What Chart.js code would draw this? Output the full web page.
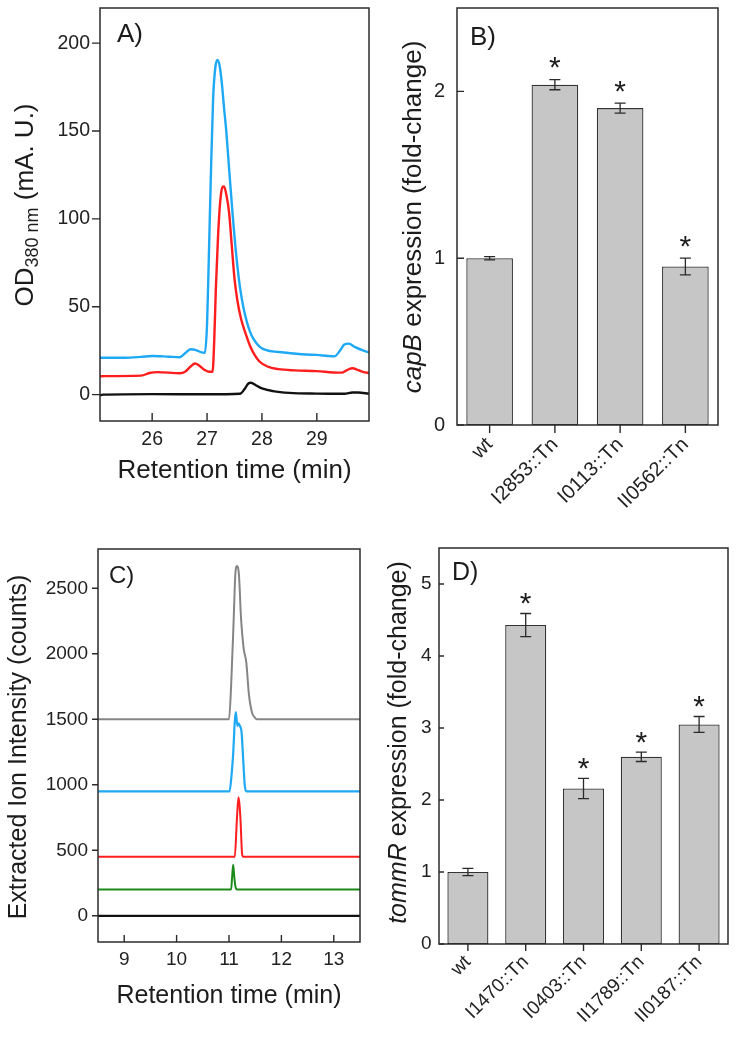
<!DOCTYPE html>
<html><head><meta charset="utf-8">
<script src="https://cdn.jsdelivr.net/npm/chart.js@4.4.1/dist/chart.umd.min.js"></script>
<style>
html,body{margin:0;padding:0;background:#fff}
body{width:736px;height:1050px;position:relative;overflow:hidden}
canvas{position:absolute}
</style></head><body>
<canvas id="cA" width="372" height="520" style="left:0;top:0"></canvas>
<canvas id="cB" width="364" height="520" style="left:372px;top:0"></canvas>
<canvas id="cC" width="372" height="530" style="left:0;top:520px"></canvas>
<canvas id="cD" width="364" height="530" style="left:372px;top:520px"></canvas>
<script>
// ---------- Panel A data (HPLC, OD380) ----------
const aXTicks = [26, 27, 28, 29];
const aYTicks = [0, 50, 100, 150, 200];
const aBlueX = [25.05,25.5,25.8,26.0,26.3,26.5,26.6,26.7,26.8,26.9,26.96,27.0,27.03,27.07,27.11,27.15,27.19,27.23,27.27,27.31,27.35,27.41,27.47,27.53,27.6,27.66,27.72,27.78,27.84,27.95,28.08,28.4,28.8,29.0,29.2,29.32,29.42,29.5,29.58,29.7,29.85,29.95];
const aBlueY = [21,21,21.5,22,21.6,21.3,23.5,25.8,25.3,24,23.8,40,75,125,168,186,190.5,187,177,163,150,125,101,80,61,50,42,36,32,27.5,25.3,24,22.8,22.6,22,21.8,25,28.5,29,27,25,24];
const aRedX = [25.05,25.8,25.95,26.1,26.5,26.6,26.7,26.78,26.86,26.95,27.05,27.1,27.13,27.16,27.2,27.24,27.28,27.31,27.35,27.4,27.45,27.5,27.55,27.62,27.7,27.78,27.85,27.95,28.1,28.3,28.6,29.0,29.3,29.45,29.55,29.65,29.75,29.85,29.95];
const aRedY = [10.5,10.8,12.3,12.8,12.2,13,16,17.7,16.5,14.2,13,13,30,60,90,110,118,118.5,114,104,85,66,54,43,35,28,23.5,19,16,14.5,13.8,13.4,12.6,12.5,14,15,14,12.8,12.3];
const aBlackX = [25.05,25.1,26.0,27.0,27.6,27.68,27.75,27.8,27.88,28.0,28.2,28.5,29.0,29.5,29.65,29.75,29.95];
const aBlackY = [-0.5,0,0.3,0.2,0.5,3,6.3,6.8,5.5,3.5,2,1,0.6,0.5,1.2,1.2,0.5];

// ---------- Panel B data (capB expression) ----------
const bLabels = ['wt', 'I2853::Tn', 'I0113::Tn', 'II0562::Tn'];
const bValues = [1.0, 2.04, 1.90, 0.95];
const bErrors = [0.01, 0.03, 0.03, 0.05];
const bSignificant = [false, true, true, true];
const bYTicks = [0, 1, 2];

// ---------- Panel C data (extracted ion chromatograms) ----------
const cXTicks = [9, 10, 11, 12, 13];
const cYTicks = [0, 500, 1000, 1500, 2000, 2500];
const cGrayX = [8.5,11.0,11.04,11.09,11.12,11.15,11.19,11.23,11.28,11.33,11.38,11.44,11.49,11.53,13.5];
const cGrayY = [1500,1500,1750,2270,2600,2670,2600,2270,2040,1935,1690,1550,1515,1500,1500];
const cBlueX = [8.5,11.01,11.05,11.08,11.11,11.13,11.16,11.18,11.2,11.24,11.27,11.3,11.33,13.5];
const cBlueY = [950,950,1080,1240,1480,1555,1450,1470,1455,1400,1200,1000,950,950];
const cRedX = [8.5,11.11,11.15,11.18,11.2,11.22,11.25,11.27,13.5];
const cRedY = [450,450,730,905,850,730,470,450,450];
const cGreenX = [8.5,11.04,11.06,11.08,11.1,11.12,11.15,13.5];
const cGreenY = [200,200,300,390,300,230,200,200];
const cBlackX = [8.5, 13.5];
const cBlackY = [0, 0];

// ---------- Panel D data (tommR expression) ----------
const dLabels = ['wt', 'I1470::Tn', 'I0403::Tn', 'II1789::Tn', 'II0187::Tn'];
const dValues = [1.0, 4.43, 2.16, 2.60, 3.05];
const dErrors = [0.05, 0.16, 0.14, 0.065, 0.11];
const dSignificant = [false, true, true, true, true];
const dYTicks = [0, 1, 2, 3, 4, 5];

// ---------- helpers ----------
const FONT = "'Liberation Sans', Arial, Helvetica, sans-serif";
const INK = '#1c1c1c';
Chart.defaults.font.family = FONT;
Chart.defaults.color = '#222';

const pts = (xs, ys) => xs.map((x, i) => ({x, y: ys[i]}));
const setTicks = arr => s => { s.ticks = arr.map(v => ({value: v})); };
const fixW = w => s => { s.width = w; s.paddingTop = 0; s.paddingBottom = 0; s.paddingLeft = 0; s.paddingRight = 0; };
const fixH = h => s => { s.height = h; s.paddingTop = 0; s.paddingBottom = 0; s.paddingLeft = 0; s.paddingRight = 0; };
const lineDs = (xs, ys, color, w) => ({
  data: pts(xs, ys), borderColor: color, borderWidth: w, pointRadius: 0,
  fill: false, cubicInterpolationMode: 'monotone'
});

function drawRuns(ctx, runs, bx, cy) {
  ctx.save();
  ctx.translate(bx, cy);
  ctx.rotate(-Math.PI / 2);
  ctx.textAlign = 'left'; ctx.textBaseline = 'alphabetic'; ctx.fillStyle = INK;
  let total = 0;
  runs.forEach(r => { ctx.font = `${r.italic ? 'italic ' : ''}${r.size}px ${FONT}`; r.w = ctx.measureText(r.t).width; total += r.w; });
  let x = -total / 2;
  runs.forEach(r => { ctx.font = `${r.italic ? 'italic ' : ''}${r.size}px ${FONT}`; ctx.fillText(r.t, x, r.dy || 0); x += r.w; });
  ctx.restore();
}

const deco = {
  id: 'deco',
  afterDraw(chart, args, o) {
    const ctx = chart.ctx, ca = chart.chartArea;
    ctx.save();
    // error bars + significance marks
    if (o.err) {
      const meta = chart.getDatasetMeta(0), ys = chart.scales.y, vals = chart.data.datasets[0].data;
      ctx.strokeStyle = '#2a2a2a'; ctx.lineWidth = 1.3;
      meta.data.forEach((bar, i) => {
        const yt = ys.getPixelForValue(vals[i] + o.err[i]);
        const yb = ys.getPixelForValue(vals[i] - o.err[i]);
        ctx.beginPath();
        ctx.moveTo(bar.x, yt); ctx.lineTo(bar.x, yb);
        ctx.moveTo(bar.x - o.cap, yt); ctx.lineTo(bar.x + o.cap, yt);
        ctx.moveTo(bar.x - o.cap, yb); ctx.lineTo(bar.x + o.cap, yb);
        ctx.stroke();
        if (o.sig[i]) {
          ctx.font = `${o.starSize}px ${FONT}`;
          ctx.fillStyle = INK; ctx.textAlign = 'center'; ctx.textBaseline = 'alphabetic';
          const m = ctx.measureText('*');
          const cy = yt - o.starGap;
          ctx.fillText('*', bar.x, cy + (m.actualBoundingBoxAscent - m.actualBoundingBoxDescent) / 2);
        }
      });
    }
    // tick marks
    ctx.strokeStyle = '#2a2a2a'; ctx.lineWidth = 1.4;
    const xs = chart.scales.x, ys = chart.scales.y;
    ctx.beginPath();
    xs.ticks.forEach((t, i) => {
      const p = xs.getPixelForTick(i);
      ctx.moveTo(p, ca.bottom); ctx.lineTo(p, o.xIn ? ca.bottom - o.xLen : ca.bottom + o.xLen);
    });
    ys.ticks.forEach((t, i) => {
      const p = ys.getPixelForTick(i);
      ctx.moveTo(ca.left, p); ctx.lineTo(o.yIn ? ca.left + o.yLen : ca.left - o.yLen, p);
    });
    ctx.stroke();
    // frame
    ctx.lineWidth = 1.5; ctx.strokeStyle = '#2b2b2b';
    ctx.strokeRect(ca.left, ca.top, ca.right - ca.left, ca.bottom - ca.top);
    // panel letter
    ctx.fillStyle = INK; ctx.textAlign = 'left'; ctx.textBaseline = 'alphabetic';
    ctx.font = `${o.panel.size}px ${FONT}`;
    ctx.fillText(o.panel.text, o.panel.x, o.panel.y);
    // x title
    if (o.xTitle) {
      ctx.font = `${o.xTitle.size}px ${FONT}`; ctx.textAlign = 'center';
      ctx.fillText(o.xTitle.text, o.xTitle.x, o.xTitle.y);
    }
    ctx.restore();
    drawRuns(ctx, o.yTitle.runs, o.yTitle.x, o.yTitle.y);
  }
};
Chart.register(deco);

const baseOpts = (pad) => ({
  responsive: false, animation: false,
  layout: {padding: pad},
  plugins: {legend: {display: false}, tooltip: {enabled: false}}
});
const noGrid = {display: false, drawTicks: false};

// ---------- Panel A ----------
new Chart(document.getElementById('cA'), {
  type: 'line',
  data: {datasets: [
    lineDs(aBlackX, aBlackY, '#111111', 2.4),
    lineDs(aRedX, aRedY, '#ff1d1d', 2.4),
    lineDs(aBlueX, aBlueY, '#1fa9f5', 2.4)
  ]},
  options: Object.assign(baseOpts({top: 8, right: 3, left: 0, bottom: 0}), {
    plugins: {legend: {display: false}, tooltip: {enabled: false},
      deco: {xIn: true, xLen: 8, yIn: false, yLen: 8,
        panel: {text: 'A)', x: 117, y: 42, size: 26},
        xTitle: {text: 'Retention time (min)', x: 234.5, y: 478, size: 26},
        yTitle: {x: 33, y: 205, runs: [{t: 'OD', size: 26}, {t: '380 nm', size: 18, dy: 5}, {t: ' (mA. U.)', size: 26}]}}},
    scales: {
      x: {type: 'linear', min: 25.05, max: 29.95, grid: noGrid, border: {display: false},
        ticks: {font: {size: 19.5}, padding: 7, autoSkip: false, callback: v => String(v)},
        afterBuildTicks: setTicks(aXTicks), afterFit: fixH(99)},
      y: {type: 'linear', min: -15, max: 220, grid: noGrid, border: {display: false},
        ticks: {font: {size: 19.5}, padding: 10, autoSkip: false, callback: v => String(v)},
        afterBuildTicks: setTicks(aYTicks), afterFit: fixW(100)}
    }
  })
});

// ---------- Panel B ----------
new Chart(document.getElementById('cB'), {
  type: 'bar',
  data: {labels: bLabels, datasets: [{data: bValues, backgroundColor: '#c6c6c6', borderColor: '#333333',
    borderWidth: 1.3, borderSkipped: false, barPercentage: 0.715, categoryPercentage: 1}]},
  options: Object.assign(baseOpts({top: 8, right: 18, left: 0, bottom: 0}), {
    plugins: {legend: {display: false}, tooltip: {enabled: false},
      deco: {xIn: false, xLen: 8, yIn: true, yLen: 7,
        err: bErrors, sig: bSignificant, cap: 5.5, starSize: 30, starGap: 17,
        panel: {text: 'B)', x: 98, y: 45, size: 26},
        yTitle: {x: 49, y: 217, runs: [{t: 'capB', size: 26, italic: true}, {t: ' expression (fold-change)', size: 26}]}}},
    scales: {
      x: {type: 'category', offset: true, grid: Object.assign({offset: false}, noGrid), border: {display: false},
        ticks: {font: {size: 20}, padding: 8, minRotation: 45, maxRotation: 45, autoSkip: false},
        afterFit: fixH(95)},
      y: {type: 'linear', min: 0, max: 2.5, grid: noGrid, border: {display: false},
        ticks: {font: {size: 20}, padding: 12, autoSkip: false, callback: v => String(v)},
        afterBuildTicks: setTicks(bYTicks), afterFit: fixW(85)}
    }
  })
});

// ---------- Panel C ----------
new Chart(document.getElementById('cC'), {
  type: 'line',
  data: {datasets: [
    lineDs(cBlackX, cBlackY, '#111111', 2.2),
    lineDs(cGreenX, cGreenY, '#1b8a1b', 2),
    lineDs(cRedX, cRedY, '#ff1d1d', 2),
    lineDs(cBlueX, cBlueY, '#1fa9f5', 2.2),
    lineDs(cGrayX, cGrayY, '#858585', 2)
  ]},
  options: Object.assign(baseOpts({top: 29, right: 12, left: 0, bottom: 0}), {
    plugins: {legend: {display: false}, tooltip: {enabled: false},
      deco: {xIn: true, xLen: 7, yIn: false, yLen: 6,
        panel: {text: 'C)', x: 109, y: 63, size: 24},
        xTitle: {text: 'Retention time (min)', x: 229, y: 483, size: 25},
        yTitle: {x: 26, y: 227, runs: [{t: 'Extracted Ion Intensity (counts)', size: 25}]}}},
    scales: {
      x: {type: 'linear', min: 8.5, max: 13.5, grid: noGrid, border: {display: false},
        ticks: {font: {size: 19}, padding: 6, autoSkip: false, callback: v => String(v)},
        afterBuildTicks: setTicks(cXTicks), afterFit: fixH(108)},
      y: {type: 'linear', min: -200, max: 2800, grid: noGrid, border: {display: false},
        ticks: {font: {size: 19}, padding: 10, autoSkip: false, callback: v => String(v)},
        afterBuildTicks: setTicks(cYTicks), afterFit: fixW(98)}
    }
  })
});

// ---------- Panel D ----------
new Chart(document.getElementById('cD'), {
  type: 'bar',
  data: {labels: dLabels, datasets: [{data: dValues, backgroundColor: '#c6c6c6', borderColor: '#333333',
    borderWidth: 1.3, borderSkipped: false, barPercentage: 0.71, categoryPercentage: 1}]},
  options: Object.assign(baseOpts({top: 28, right: 8, left: 0, bottom: 0}), {
    plugins: {legend: {display: false}, tooltip: {enabled: false},
      deco: {xIn: false, xLen: 7, yIn: true, yLen: 5,
        err: dErrors, sig: dSignificant, cap: 5.5, starSize: 30, starGap: 15,
        panel: {text: 'D)', x: 80, y: 60, size: 25},
        yTitle: {x: 34, y: 222.5, runs: [{t: 'tommR', size: 25, italic: true}, {t: ' expression (fold-change)', size: 25}]}}},
    scales: {
      x: {type: 'category', offset: true, grid: Object.assign({offset: false}, noGrid), border: {display: false},
        ticks: {font: {size: 19}, padding: 7, minRotation: 45, maxRotation: 45, autoSkip: false},
        afterFit: fixH(106)},
      y: {type: 'linear', min: 0, max: 5.5, grid: noGrid, border: {display: false},
        ticks: {font: {size: 19}, padding: 7.5, autoSkip: false, callback: v => String(v)},
        afterBuildTicks: setTicks(dYTicks), afterFit: fixW(67)}
    }
  })
});
</script>
</body></html>
